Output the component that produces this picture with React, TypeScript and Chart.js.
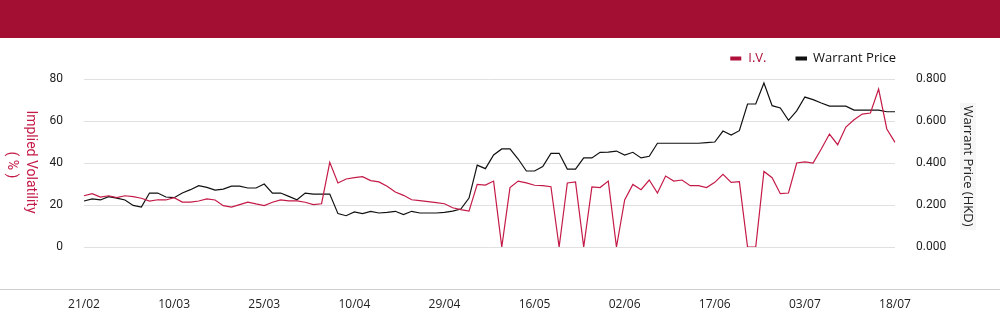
import React, { useEffect, useRef } from 'react';
import { Chart, registerables } from 'chart.js';

Chart.register(...registerables);

const tickLabels = ['21/02', '10/03', '25/03', '10/04', '29/04', '16/05', '02/06', '17/06', '03/07', '18/07'];
const labelStep = 11;

const ivValues = [
  24.4, 25.4, 23.8, 24.4, 23.5, 24.4, 24.0, 23.2, 21.9, 22.5,
  22.4, 23.5, 21.4, 21.4, 21.9, 22.9, 22.4, 19.7, 19.0, 20.2,
  21.4, 20.5, 19.7, 21.3, 22.4, 22.0, 22.0, 21.3, 20.2, 20.6,
  40.3, 30.5, 32.4, 33.0, 33.5, 31.6, 31.0, 28.9, 26.2, 24.6,
  22.5, 22.1, 21.6, 21.1, 20.6, 18.7, 17.8, 17.1, 29.8, 29.5,
  31.4, 0, 28.3, 31.4, 30.5, 29.4, 29.2, 28.7, 0, 30.5,
  31.0, 0, 28.6, 28.3, 31.4, 0, 22.4, 29.8, 27.3, 31.9,
  25.7, 33.8, 31.4, 31.9, 29.2, 29.2, 28.3, 30.8, 34.6, 30.8,
  31.1, 0, 0, 36.0, 33.0, 25.4, 25.7, 40.0, 40.5, 40.0,
  46.7, 53.8, 48.7, 57.1, 60.6, 63.3, 63.8, 75.2, 56.2, 49.8,
];

const priceValues = [
  0.219, 0.229, 0.224, 0.240, 0.233, 0.224, 0.198, 0.190, 0.257, 0.257,
  0.238, 0.235, 0.257, 0.273, 0.292, 0.284, 0.271, 0.276, 0.290, 0.290,
  0.281, 0.281, 0.300, 0.257, 0.257, 0.241, 0.225, 0.257, 0.252, 0.252,
  0.252, 0.159, 0.149, 0.167, 0.159, 0.170, 0.162, 0.165, 0.170, 0.154,
  0.170, 0.162, 0.162, 0.162, 0.165, 0.171, 0.181, 0.233, 0.390, 0.373,
  0.438, 0.467, 0.467, 0.419, 0.362, 0.362, 0.383, 0.446, 0.446, 0.371,
  0.371, 0.424, 0.424, 0.451, 0.452, 0.457, 0.438, 0.451, 0.424, 0.432,
  0.494, 0.494, 0.494, 0.494, 0.494, 0.494, 0.497, 0.500, 0.552, 0.533,
  0.554, 0.681, 0.681, 0.781, 0.673, 0.662, 0.603, 0.648, 0.714, 0.702,
  0.686, 0.671, 0.671, 0.671, 0.652, 0.652, 0.652, 0.652, 0.644, 0.644,
];

const categories = ivValues.map((_, i) =>
  i % labelStep === 0 && tickLabels[i / labelStep] !== undefined ? tickLabels[i / labelStep] : ''
);

const IV_COLOR = '#c41a47';
const IV_LEGEND = '#b0103a';
const PRICE_COLOR = '#111111';
const HEADER_COLOR = '#a30f33';

const decorPlugin = {
  id: 'decor',
  beforeDraw(chart: any) {
    const { ctx, chartArea, width } = chart;
    ctx.save();
    // separator line above date labels
    const ly = Math.round(chartArea.bottom + 42) + 0.5;
    ctx.strokeStyle = '#cfcfcf';
    ctx.lineWidth = 1;
    ctx.beginPath();
    ctx.moveTo(0, ly);
    ctx.lineTo(width, ly);
    ctx.stroke();
    // faint background behind right title
    ctx.fillStyle = '#f6f6f6';
    ctx.fillRect(chartArea.right + 65, chartArea.top + 24, 16, 127);
    ctx.restore();
  },
  afterDraw(chart: any) {
    const { ctx, chartArea } = chart;
    const midY = (chartArea.top + chartArea.bottom) / 2;
    ctx.save();
    // left title
    ctx.fillStyle = IV_COLOR;
    ctx.font = '14px Roboto';
    ctx.textAlign = 'center';
    ctx.textBaseline = 'middle';
    ctx.save();
    ctx.translate(30, midY - 1);
    ctx.rotate(Math.PI / 2);
    ctx.fillText('Implied Volatility', 0, 0);
    ctx.restore();
    ctx.save();
    ctx.translate(11, midY + 2);
    ctx.rotate(Math.PI / 2);
    ctx.fillText('( % )', 0, 0);
    ctx.restore();
    // right title
    ctx.fillStyle = '#222222';
    ctx.font = '13px "Open Sans"';
    ctx.save();
    ctx.translate(chartArea.right + 73, midY + 3);
    ctx.rotate(Math.PI / 2);
    ctx.fillText('Warrant Price (HKD)', 0, 0);
    ctx.restore();

    // legend
    const ly = chartArea.top - 20.5;
    ctx.textAlign = 'left';
    ctx.textBaseline = 'middle';
    ctx.font = '13px "Open Sans"';
    const wp = 'Warrant Price';
    const iv = 'I.V.';
    const wpW = ctx.measureText(wp).width;
    const ivW = ctx.measureText(iv).width;
    const wpX = chartArea.right + 1 - wpW;
    const bBoxX = wpX - 6 - 11.5;
    const ivX = bBoxX - 29 - ivW;
    const rBoxX = ivX - 7 - 11;
    ctx.fillStyle = PRICE_COLOR;
    ctx.fillRect(bBoxX, ly - 2, 11.5, 4);
    ctx.fillText(wp, wpX, ly);
    ctx.fillStyle = IV_LEGEND;
    ctx.fillRect(rBoxX, ly - 2, 11, 4);
    ctx.fillText(iv, ivX, ly);
    ctx.restore();
  },
};

export default function App() {
  const canvasRef = useRef<HTMLCanvasElement | null>(null);

  useEffect(() => {
    document.body.style.margin = '0';
    const canvas = canvasRef.current;
    if (!canvas) return;
    const chart = new Chart(canvas, {
      type: 'line',
      data: {
        labels: categories,
        datasets: [
          {
            label: 'I.V.',
            data: ivValues,
            yAxisID: 'y',
            borderColor: IV_COLOR,
            backgroundColor: IV_COLOR,
            borderWidth: 1.2,
            pointRadius: 0,
            tension: 0,
            fill: false,
          },
          {
            label: 'Warrant Price',
            data: priceValues,
            yAxisID: 'y1',
            borderColor: PRICE_COLOR,
            backgroundColor: PRICE_COLOR,
            borderWidth: 1.2,
            pointRadius: 0,
            tension: 0,
            fill: false,
          },
        ],
      },
      options: {
        animation: false,
        responsive: true,
        maintainAspectRatio: false,
        layout: { padding: { top: 41, left: 0, right: 0, bottom: 0 } },
        plugins: {
          legend: { display: false },
          tooltip: { enabled: false },
          title: { display: false },
        },
        scales: {
          x: {
            type: 'category',
            grid: { display: false, drawTicks: false },
            border: { display: false },
            ticks: {
              autoSkip: false,
              maxRotation: 0,
              minRotation: 0,
              padding: 50,
              color: '#222222',
              font: { family: '"Open Sans"', size: 12 },
            },
            afterFit: (s: any) => {
              s.height = 77;
            },
          },
          y: {
            position: 'left',
            min: 0,
            max: 80,
            ticks: {
              stepSize: 20,
              padding: 21,
              color: '#222222',
              font: { family: 'Roboto', size: 12 },
            },
            grid: { color: '#e0e0e0', drawTicks: false, lineWidth: 1 },
            border: { display: false },
            afterFit: (s: any) => {
              s.width = 84;
            },
          },
          y1: {
            position: 'right',
            min: 0,
            max: 0.8,
            ticks: {
              stepSize: 0.2,
              padding: 21,
              color: '#222222',
              font: { family: 'Roboto', size: 12 },
              callback: (v: any) => Number(v).toFixed(3),
            },
            grid: { display: false, drawTicks: false },
            border: { display: false },
            afterFit: (s: any) => {
              s.width = 105;
            },
          },
        },
      },
      plugins: [decorPlugin],
    });
    return () => chart.destroy();
  }, []);

  return (
    <div style={{ width: 1000, height: 324, background: '#ffffff', fontFamily: '"Open Sans", sans-serif' }}>
      <div style={{ height: 38, background: HEADER_COLOR }} />
      <div style={{ position: 'relative', width: 1000, height: 286 }}>
        <canvas ref={canvasRef} />
      </div>
    </div>
  );
}
